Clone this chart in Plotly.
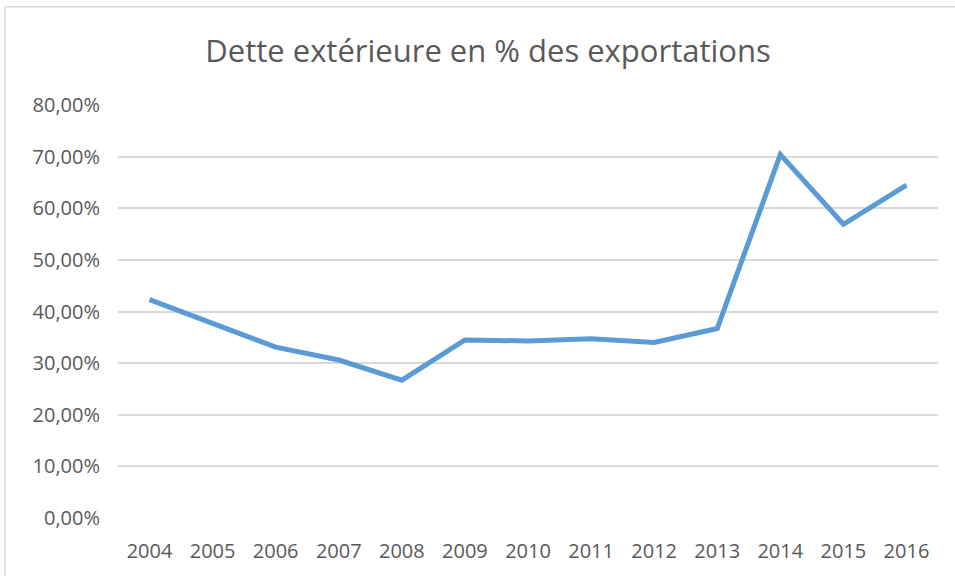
import plotly.graph_objects as go

years = ["2004", "2005", "2006", "2007", "2008", "2009", "2010", "2011", "2012", "2013", "2014", "2015", "2016"]
values = [42.3, 37.7, 33.1, 30.6, 26.7, 34.5, 34.3, 34.7, 34.0, 36.7, 70.4, 56.9, 64.5]
y_ticks = [0, 10, 20, 30, 40, 50, 60, 70, 80]
y_tick_labels = ["0,00%", "10,00%", "20,00%", "30,00%", "40,00%", "50,00%", "60,00%", "70,00%", "80,00%"]
title_text = "Dette extérieure en % des exportations"

fig = go.Figure()
fig.add_trace(go.Scatter(
    x=years, y=values, mode="lines",
    line=dict(color="#5B9BD5", width=5),
    hoverinfo="skip", showlegend=False,
))

font_family = "Open Sans, Liberation Sans, sans-serif"

fig.update_layout(
    width=955, height=576,
    margin=dict(l=118, r=17, t=105, b=55),
    paper_bgcolor="white", plot_bgcolor="white",
    title=dict(text=title_text, x=0.511, xanchor="center", y=0.912, yanchor="middle",
               font=dict(family=font_family, size=31, color="#595959")),
    xaxis=dict(type="category", range=[-0.5, 12.5], showgrid=False, zeroline=False,
               showline=False, ticks="", tickfont=dict(family=font_family, size=20, color="#595959"),
               ticklabelstandoff=19),
    yaxis=dict(range=[0, 80], tickvals=y_ticks, ticktext=y_tick_labels,
               showgrid=True, gridcolor="#D9D9D9", gridwidth=1.5, zeroline=False,
               showline=False, ticks="", tickfont=dict(family=font_family, size=20, color="#595959"),
               ticklabelstandoff=17),
    shapes=[
        dict(type="line", xref="paper", yref="paper", x0=-0.1378, x1=-0.1378, y0=-0.2, y1=1.238,
             line=dict(color="#D9D9D9", width=1.5)),
        dict(type="line", xref="paper", yref="paper", x0=-0.1378, x1=1.1, y0=1.238, y1=1.238,
             line=dict(color="#D9D9D9", width=1.5)),
    ],
)

fig.write_html("out.html", config={"displayModeBar": False},
               post_script="document.body.style.margin='0';")
